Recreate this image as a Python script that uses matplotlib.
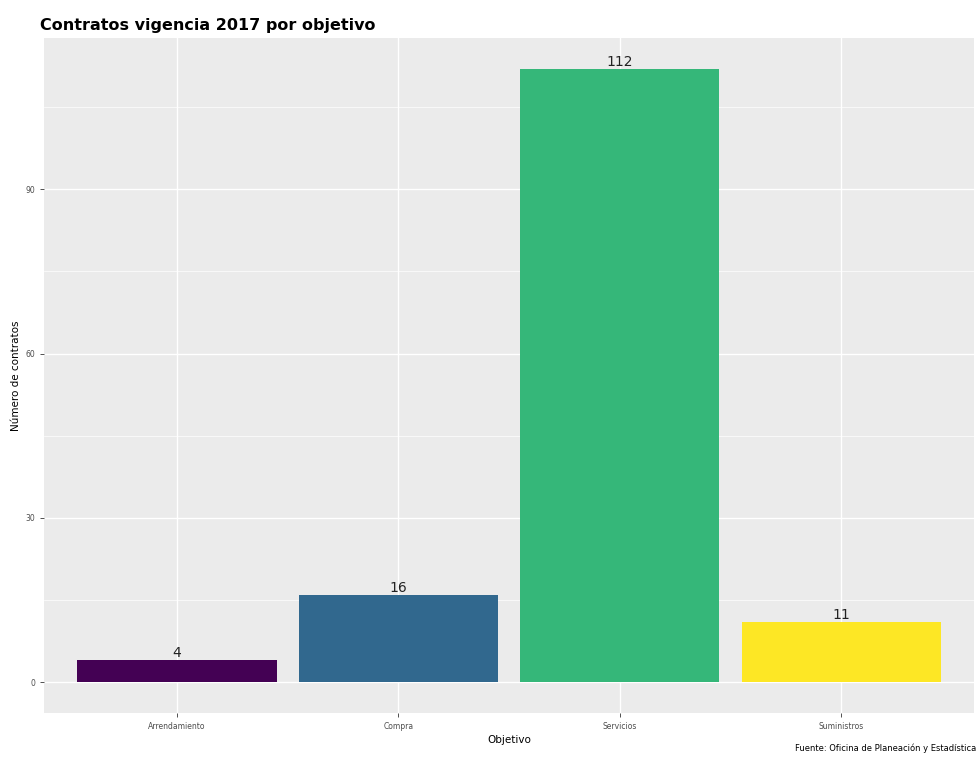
import matplotlib.pyplot as plt
from matplotlib.ticker import MultipleLocator

categorias = ["Arrendamiento", "Compra", "Servicios", "Suministros"]
contratos = [4, 16, 112, 11]
colores = ["#440154", "#31688E", "#35B779", "#FDE725"]
y_ticks = [0, 30, 60, 90]

fig = plt.figure(figsize=(9.79, 7.6), dpi=100)
ax = fig.add_axes([0.045, 0.062, 0.950, 0.888])

ax.set_facecolor("#EBEBEB")
for s in ax.spines.values():
    s.set_visible(False)

x = range(len(categorias))
ax.bar(x, contratos, width=0.9, color=colores, zorder=3)
for xi, v in zip(x, contratos):
    ax.text(xi, v, str(v), ha="center", va="bottom", fontsize=10, color="#222222", zorder=4)

ax.set_xlim(-0.6, 3.6)
ax.set_ylim(-0.05 * max(contratos), 1.05 * max(contratos))
ax.set_xticks(list(x))
ax.set_xticklabels(categorias, fontsize=5.5, color="#4D4D4D")
ax.set_yticks(y_ticks)
ax.set_yticklabels([str(t) for t in y_ticks], fontsize=5.5, color="#4D4D4D")
ax.yaxis.set_minor_locator(MultipleLocator(15))
ax.tick_params(axis="both", which="major", length=3, color="#333333", width=0.6)
ax.tick_params(axis="y", which="minor", length=0)

ax.grid(True, which="major", color="white", linewidth=1.0, zorder=0)
ax.grid(True, which="minor", axis="y", color="white", linewidth=0.5, zorder=0)
ax.set_axisbelow(True)

ax.set_xlabel("Objetivo", fontsize=7.5, labelpad=3)
ax.set_ylabel("Número de contratos", fontsize=7.5, labelpad=3)
fig.text(0.041, 0.967, "Contratos vigencia 2017 por objetivo", fontsize=11.5,
         fontweight="bold", ha="left", va="center")
fig.text(0.997, 0.016, "Fuente: Oficina de Planeación y Estadística", fontsize=6,
         ha="right", va="center")

fig.savefig("out.png", dpi=100)
